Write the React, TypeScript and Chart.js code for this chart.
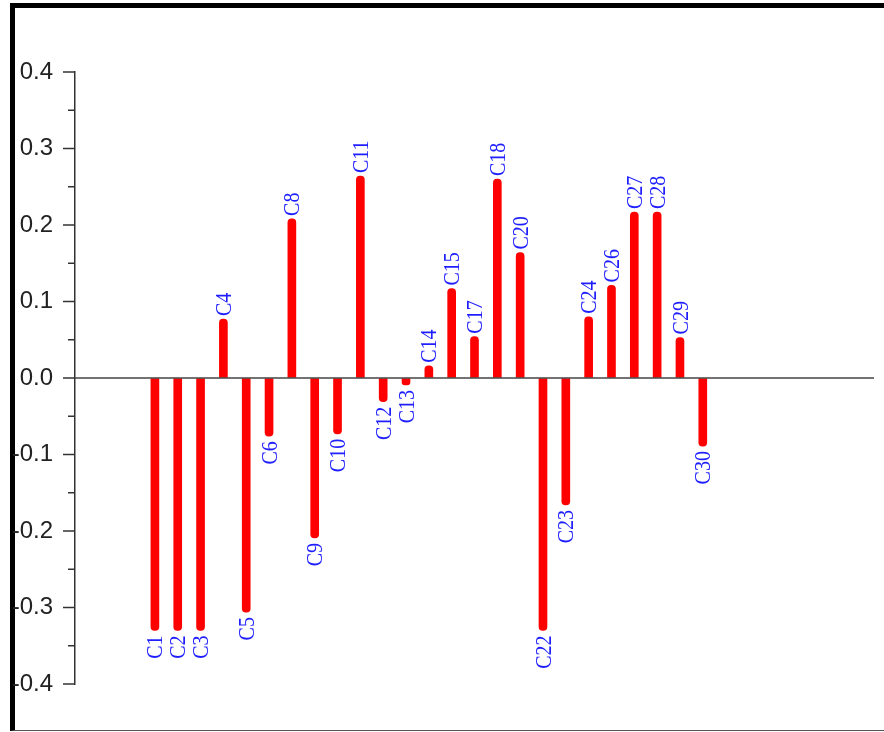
import React, { useEffect, useRef } from "react";
import { Chart, registerables } from "chart.js";

Chart.register(...registerables);

const categories = [
  "C1", "C2", "C3", "C4", "C5", "C6", "C8", "C9", "C10", "C11", "C12", "C13",
  "C14", "C15", "C17", "C18", "C20", "C22", "C23", "C24", "C26", "C27", "C28",
  "C29", "C30",
];

const values = [
  -0.33, -0.33, -0.33, 0.077, -0.306, -0.076, 0.208, -0.209, -0.073, 0.264,
  -0.031, -0.009, 0.016, 0.117, 0.054, 0.26, 0.164, -0.33, -0.166, 0.08, 0.121,
  0.217, 0.217, 0.053, -0.089,
];

const yMin = -0.4;
const yMax = 0.4;
const yStep = 0.05;

const labelPlugin = {
  id: "barLabels",
  afterDatasetsDraw(chart: any) {
    const ctx = chart.ctx;
    const yScale = chart.scales.y;
    const area = chart.chartArea;
    // zero line
    const y0 = yScale.getPixelForValue(0);
    ctx.save();
    ctx.strokeStyle = "#444";
    ctx.lineWidth = 1.5;
    ctx.beginPath();
    ctx.moveTo(area.left, y0);
    ctx.lineTo(area.right, y0);
    ctx.stroke();
    ctx.restore();

    const meta = chart.getDatasetMeta(0);
    meta.data.forEach((el: any, i: number) => {
      const v = values[i];
      ctx.save();
      ctx.fillStyle = "rgb(30,30,255)";
      ctx.font = '23px "Liberation Serif", serif';
      ctx.textBaseline = "middle";
      if (v >= 0) {
        ctx.translate(el.x, el.y - 3);
        ctx.rotate(-Math.PI / 2);
        ctx.scale(0.87, 1);
        ctx.textAlign = "left";
      } else {
        ctx.translate(el.x, el.y + 5);
        ctx.rotate(-Math.PI / 2);
        ctx.scale(0.87, 1);
        ctx.textAlign = "right";
      }
      ctx.fillText(categories[i], 0, 1.5);
      ctx.restore();
    });

    // y tick marks (major + minor)
    const axisX = area.left;
    ctx.save();
    ctx.strokeStyle = "#333";
    ctx.lineWidth = 1.5;
    yScale.ticks.forEach((t: any) => {
      const py = yScale.getPixelForValue(t.value);
      const major = Math.round(t.value * 100) % 10 === 0;
      const len = major ? 12 : 7;
      ctx.beginPath();
      ctx.moveTo(axisX - len, py);
      ctx.lineTo(axisX, py);
      ctx.stroke();
    });
    ctx.restore();
  },
};

export default function App() {
  const ref = useRef<HTMLCanvasElement | null>(null);

  useEffect(() => {
    if (!ref.current) return;
    const chart = new Chart(ref.current, {
      type: "bar",
      data: {
        datasets: [
          {
            data: categories.map((c, i) => ({ x: i + 1, y: values[i] })),
            backgroundColor: "#ff0000",
            borderWidth: 0,
            barThickness: 8,
            borderRadius: 4,
            borderSkipped: "start",
          },
        ],
      },
      options: {
        responsive: false,
        animation: false,
        devicePixelRatio: 1,
        layout: { padding: { left: 0, top: 72, right: 10, bottom: 48 } },
        plugins: {
          legend: { display: false },
          tooltip: { enabled: false },
        },
        scales: {
          x: {
            type: "linear",
            display: false,
            offset: false,
            min: -2.5,
            max: 32.5,
          },
          y: {
            type: "linear",
            min: yMin,
            max: yMax,
            afterFit(scale: any) {
              scale.width = 75;
            },
            border: { display: true, color: "#333", width: 1.5 },
            grid: {
              drawOnChartArea: false,
              drawTicks: false,
            },
            ticks: {
              stepSize: yStep,
              padding: 22,
              color: "#222",
              font: { family: '"Liberation Sans", Arial, sans-serif', size: 24 },
              callback(value: any) {
                const v = Number(value);
                if (Math.round(v * 100) % 10 !== 0) return "";
                return v.toFixed(1);
              },
            },
          },
        },
      },
      plugins: [labelPlugin],
    });
    return () => chart.destroy();
  }, []);

  return (
    <div
      style={{
        position: "fixed",
        left: 0,
        top: 0,
        width: 884,
        height: 732,
        background: "#fff",
        overflow: "hidden",
      }}
    >
      <div
        style={{
          position: "absolute",
          left: 10,
          top: 3,
          width: 1000,
          height: 728,
          boxSizing: "border-box",
          borderTop: "5px solid #000",
          borderLeft: "5px solid #000",
          borderBottom: "1px solid #555",
        }}
      />
      <canvas
        ref={ref}
        width={884}
        height={732}
        style={{ position: "absolute", left: 0, top: 0 }}
      />
    </div>
  );
}
